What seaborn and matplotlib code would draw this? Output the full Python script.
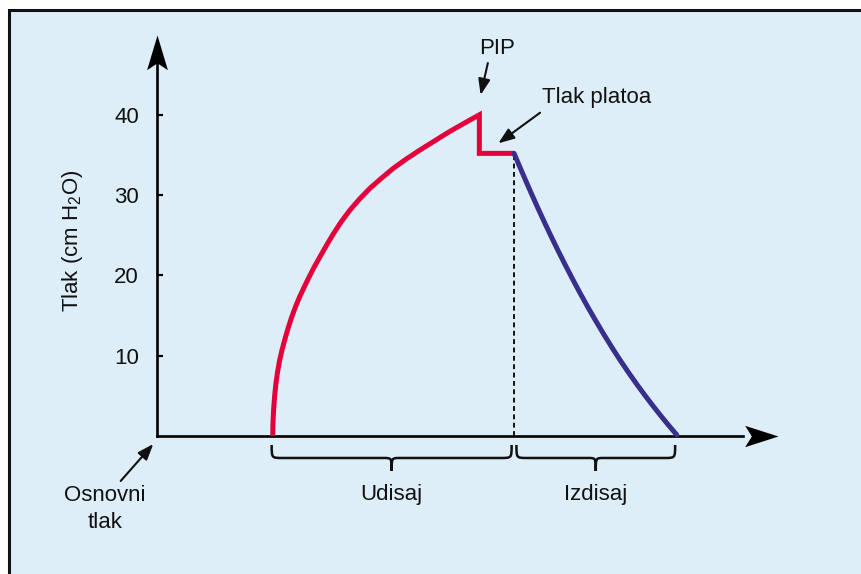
import numpy as np
import matplotlib
matplotlib.use("Agg")
import matplotlib.pyplot as plt
from matplotlib.path import Path
from matplotlib.patches import PathPatch, Rectangle
import seaborn as sns

# ── Podaci (očitano sa slike) ─────────────────────────────────────
# udisaj: vreme (s) i pritisak (cm H2O), uključujući pad sa PIP na plato
insp_t = [1.441, 1.444, 1.452, 1.464, 1.481, 1.502, 1.528, 1.557, 1.590,
          1.632, 1.679, 1.725, 1.777, 1.835, 1.896, 1.960, 2.030, 2.113,
          2.200, 2.295, 2.403, 2.522, 2.652, 2.793, 2.943, 3.105, 3.275,
          3.440, 3.608, 3.740, 3.870, 3.945, 4.014, 4.014, 4.446]
insp_p = [0.0, 1.6, 3.24, 4.89, 6.56, 8.01, 9.46, 10.71, 11.96,
          13.41, 14.86, 16.10, 17.35, 18.59, 19.84, 21.08, 22.33, 23.79,
          25.24, 26.69, 28.14, 29.51, 30.85, 32.09, 33.34, 34.50, 35.62,
          36.65, 37.70, 38.47, 39.20, 39.62, 40.0, 35.2, 35.2]
# izdisaj
exp_t = [4.446, 4.521, 4.583, 4.666, 4.748, 4.832, 4.915, 4.998, 5.081,
         5.172, 5.268, 5.364, 5.455, 5.558, 5.663, 5.766, 5.869, 5.974,
         6.077, 6.181, 6.285, 6.376, 6.472]
exp_p = [35.2, 33.44, 32.0, 30.11, 28.28, 26.46, 24.71, 23.01, 21.36,
         19.60, 17.80, 16.07, 14.49, 12.76, 11.06, 9.46, 7.94, 6.45,
         5.05, 3.69, 2.38, 1.27, 0.14]
y_ticks = [10, 20, 30, 40]
phase_labels = ["Udisaj", "Izdisaj"]

RED = "#e4003a"
BLUE = "#382e8c"
BG = "#ddeef8"
FS = 16

sns.set_theme(style="white")
plt.rcParams["font.family"] = ["Liberation Sans", "DejaVu Sans"]
plt.rcParams["mathtext.default"] = "regular"

fig = plt.figure(figsize=(8.62, 5.74), dpi=100)
fig.patch.set_facecolor("white")
fig.patches.append(Rectangle((9.5 / 862, -0.1), 1.2, 1 - 9.5 / 574 + 0.1,
                             transform=fig.transFigure, facecolor=BG,
                             edgecolor="#111111", linewidth=2.2, zorder=-1))

ax = fig.add_axes([0, 0, 1, 1])
ax.set_facecolor("none")
ax.set_xlim(-1.955, 8.779)
ax.set_ylim(-17.19, 54.3)

# ── Osovine sa strelicama ────────────────────────────────────────
for s in ["top", "right"]:
    ax.spines[s].set_visible(False)
for s in ["left", "bottom"]:
    ax.spines[s].set_position(("data", 0))
    ax.spines[s].set_linewidth(1.9)
    ax.spines[s].set_color("black")
ax.spines["left"].set_bounds(0, 47.5)
ax.spines["bottom"].set_bounds(0, 7.3)

ax.set_xticks([])
ax.set_yticks(y_ticks)
ax.set_yticklabels([str(v) for v in y_ticks])
ax.tick_params(axis="y", direction="in", length=4, width=1.6, color="black",
               labelsize=FS, pad=13, labelcolor="#111111", left=True)
ax.grid(False)

up_head = Path([(0, 0), (0.3, -1), (0, -0.8), (-0.3, -1), (0, 0)],
               [Path.MOVETO, Path.LINETO, Path.LINETO, Path.LINETO, Path.CLOSEPOLY])
right_head = Path([(0, 0), (-1, 0.32), (-0.8, 0), (-1, -0.32), (0, 0)],
                  [Path.MOVETO, Path.LINETO, Path.LINETO, Path.LINETO, Path.CLOSEPOLY])
ax.plot([0], [49.9], marker=up_head, markersize=50, color="black",
        markeredgewidth=0, clip_on=False, zorder=5)
ax.plot([7.734], [0], marker=right_head, markersize=48, color="black",
        markeredgewidth=0, clip_on=False, zorder=5)

ax.text(-1.046, 24.3, "Tlak (cm H$_2$O)", rotation=90, ha="center", va="center",
        fontsize=FS, color="#111111")

# ── Krive pritiska ──────────────────────────────────────────────
sns.lineplot(x=insp_t, y=insp_p, sort=False, estimator=None, color=RED,
             linewidth=3.6, ax=ax, zorder=4, solid_joinstyle="miter",
             solid_capstyle="butt")
sns.lineplot(x=exp_t, y=exp_p, sort=False, estimator=None, color=BLUE,
             linewidth=3.6, ax=ax, zorder=4, solid_capstyle="round",
             solid_joinstyle="round")

t_split = insp_t[-1]
p_plat = insp_p[-1]
ax.plot([t_split, t_split], [0, p_plat], color="#111111", linewidth=1.4,
        dashes=(2.5, 1.8), zorder=3)


# ── Vitičaste zagrade ───────────────────────────────────────────
def brace(x0, x1, y_top=-1.12, y_bar=-2.74, y_tip=-4.36, r=0.13, rm=0.1):
    xm = (x0 + x1) / 2
    verts = [(x0, y_top), (x0, y_bar), (x0, y_bar), (x0 + r, y_bar),
             (xm - rm, y_bar), (xm, y_bar), (xm, y_bar), (xm, y_tip),
             (xm, y_bar), (xm, y_bar), (xm + rm, y_bar),
             (x1 - r, y_bar), (x1, y_bar), (x1, y_bar), (x1, y_top)]
    codes = [Path.MOVETO, Path.CURVE4, Path.CURVE4, Path.CURVE4,
             Path.LINETO, Path.CURVE4, Path.CURVE4, Path.CURVE4,
             Path.CURVE4, Path.CURVE4, Path.CURVE4,
             Path.LINETO, Path.CURVE4, Path.CURVE4, Path.CURVE4]
    ax.add_patch(PathPatch(Path(verts, codes), facecolor="none",
                           edgecolor="#111111", linewidth=1.8, clip_on=False))
    return xm


gap = 0.03
xm1 = brace(insp_t[0] - 0.013, t_split - gap)
xm2 = brace(t_split + gap, exp_t[-1] - 0.02)
ax.text(xm1, -7.35, phase_labels[0], ha="center", va="center", fontsize=FS, color="#111111")
ax.text(xm2, -7.35, phase_labels[1], ha="center", va="center", fontsize=FS, color="#111111")

# ── Oznake sa strelicama ────────────────────────────────────────
arrow_kw = dict(arrowstyle="-|>,head_length=0.8,head_width=0.3", color="#111111",
                linewidth=1.5, mutation_scale=12, shrinkA=0, shrinkB=0)
ax.text(4.23, 48.2, "PIP", ha="center", va="center", fontsize=FS, color="#111111")
ax.annotate("", xy=(4.03, 42.47), xytext=(4.12, 46.45), arrowprops=arrow_kw)
ax.text(5.47, 42.1, "Tlak platoa", ha="center", va="center", fontsize=FS, color="#111111")
ax.annotate("", xy=(4.25, 36.45), xytext=(4.77, 40.26), arrowprops=arrow_kw)
ax.text(-0.648, -9.1, "Osnovni\ntlak", ha="center", va="center", fontsize=FS,
        color="#111111", linespacing=1.35, multialignment="center")
ax.annotate("", xy=(-0.046, -1.0), xytext=(-0.452, -5.6), arrowprops=arrow_kw)

fig.savefig("out.png", dpi=100, facecolor=fig.get_facecolor())
